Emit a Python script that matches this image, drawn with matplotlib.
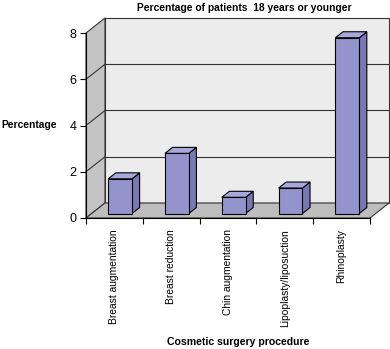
import numpy as np
import matplotlib.pyplot as plt

plt.rcParams['font.family'] = ['Liberation Sans', 'DejaVu Sans']

procedures = ['Breast augmentation', 'Breast reduction', 'Chin augmentation',
              'Lipoplasty/liposuction', 'Rhinoplasty']
percent = [1.5, 2.6, 0.7, 1.1, 7.6]
yticks = [0, 2, 4, 6, 8]

W, H = 390, 349
fig = plt.figure(figsize=(W / 100, H / 100), dpi=100)

# pixel layout of the front axes
x0, x1 = 86, 370      # front axis from category 0 to 5
y0, y8 = 218, 33      # value 0 and value 8
top = 14
pxx = (x1 - x0) / len(procedures)
pxy = (y0 - y8) / 8.0
DX = 19 / pxx         # depth offset in data units
DY = 15 / pxy

ax = fig.add_axes([x0 / W, (H - y0) / H, (W - x0) / W, (y0 - top) / H])
ax.set_xlim(0, (W - x0) / pxx)
ax.set_ylim(0, (y0 - top) / pxy)

n = len(procedures)
ymax = 8
edge = '#333333'

# back wall
ax.fill([DX, n + DX, n + DX, DX], [DY, DY, ymax + DY, ymax + DY],
        color='#ececec', ec=edge, lw=0.8, zorder=1, clip_on=False)
# side wall
ax.fill([0, DX, DX, 0], [0, DY, ymax + DY, ymax], color='#c4c4c4',
        ec=edge, lw=0.8, zorder=1, clip_on=False)
# floor
ax.fill([0, n, n + DX, DX], [0, 0, DY, DY], color='#bdbdbd',
        ec=edge, lw=0.8, zorder=1, clip_on=False)

for t in yticks[1:-1]:
    ax.plot([DX, n + DX], [t + DY, t + DY], color=edge, lw=0.8, zorder=2, clip_on=False)
    ax.plot([0, DX], [t, t + DY], color=edge, lw=0.8, zorder=2, clip_on=False)

# bars
bw = 0.42
d0, d1 = 0.3, 0.7
front_c, side_c, top_c = '#9494cc', '#7878b4', '#a8a8dc'
for i, v in enumerate(percent):
    a = i + 0.5 - bw / 2 + d0 * DX
    b = a + bw
    yb = d0 * DY
    ddx = (d1 - d0) * DX
    ddy = (d1 - d0) * DY
    ax.fill([b, b + ddx, b + ddx, b], [yb, yb + ddy, yb + v + ddy, yb + v],
            color=side_c, ec='black', lw=0.8, zorder=3, clip_on=False)
    ax.fill([a, b, b + ddx, a + ddx], [yb + v, yb + v, yb + v + ddy, yb + v + ddy],
            color=top_c, ec='black', lw=0.8, zorder=3, clip_on=False)
    ax.fill([a, b, b, a], [yb, yb, yb + v, yb + v],
            color=front_c, ec='black', lw=0.8, zorder=3, clip_on=False)

for s in ['top', 'right']:
    ax.spines[s].set_visible(False)
ax.spines['left'].set_bounds(0, ymax)
ax.spines['bottom'].set_bounds(0, n)
ax.spines['left'].set_zorder(4)
ax.spines['bottom'].set_zorder(4)

ax.set_yticks(yticks)
ax.tick_params(axis='y', length=4, width=0.8, pad=3, labelsize=9)
ax.set_xticks(np.arange(n + 1), minor=True)
ax.set_xticks(np.arange(n) + 0.5)
ax.set_xticklabels(procedures, rotation=90, fontsize=7.4)
ax.tick_params(axis='x', which='major', length=0, pad=8)
ax.tick_params(axis='x', which='minor', length=4, width=0.8)

fig.text(244 / W, 1 - 8 / H, 'Percentage of patients  18 years or younger',
         ha='center', va='center', fontsize=7.4, fontweight='bold')
fig.text(1 / W, 1 - 125 / H, 'Percentage', ha='left', va='center',
         fontsize=7.4, fontweight='bold')
fig.text(238 / W, 1 - 342 / H, 'Cosmetic surgery procedure', ha='center',
         va='center', fontsize=7.6, fontweight='bold')

fig.savefig('out.png', dpi=100)
